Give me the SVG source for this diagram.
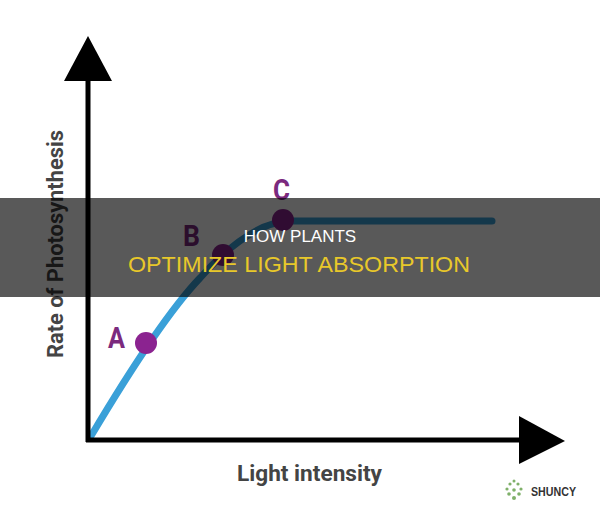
<svg xmlns="http://www.w3.org/2000/svg" width="600" height="517" viewBox="0 0 600 517">
<defs>
<style>
.axis{stroke:#000;stroke-width:5;fill:none}
.head{fill:#000}
.curve{stroke:#3aa0d8;stroke-width:7;fill:none;stroke-linecap:round}
.dot{fill:#8b2390}
.lbl{font-family:"Liberation Sans Narrow","Roboto","Liberation Sans",sans-serif;font-weight:bold;font-size:29px;fill:#7b2a7e}
.axt{font-family:"Roboto","Liberation Sans",sans-serif;font-weight:bold;font-size:22px;fill:#444}
</style>
</defs>
<rect width="600" height="517" fill="#fff"/>
<g id="connectors">
<path class="curve" d="M91,436 Q160,320 200,278 Q250,222 290,221 L492,221"/>
</g>
<g id="y-axis">
<line class="axis" x1="88" y1="442" x2="88" y2="78"/>
<polygon class="head" points="88,36 112,81 64,81"/>
</g>
<g id="x-axis">
<line class="axis" x1="86" y1="440" x2="522" y2="440"/>
<polygon class="head" points="565,441 519,416 519,464"/>
</g>
<g id="point-a">
<circle class="dot" cx="146" cy="343" r="11"/>
<text class="lbl" x="108" y="348" textLength="17" lengthAdjust="spacingAndGlyphs">A</text>
</g>
<g id="point-b">
<circle class="dot" cx="223" cy="255" r="11"/>
<text class="lbl" x="183" y="246" font-size="26" textLength="17" lengthAdjust="spacingAndGlyphs">B</text>
</g>
<g id="point-c">
<circle class="dot" cx="283" cy="220" r="11"/>
<text class="lbl" x="273" y="200" textLength="17" lengthAdjust="spacingAndGlyphs">C</text>
</g>
<g id="y-label">
<text class="axt" transform="translate(63,244) rotate(-90)" text-anchor="middle" textLength="228" lengthAdjust="spacingAndGlyphs">Rate of Photosynthesis</text>
</g>
<g id="x-label">
<text class="axt" x="237" y="481" textLength="145" lengthAdjust="spacingAndGlyphs">Light intensity</text>
</g>
<g id="banner">
<rect x="0" y="198" width="600" height="99" fill="#000" fill-opacity="0.65"/>
<text x="300" y="242" text-anchor="middle" font-family="Liberation Sans, Arial, sans-serif" font-size="17" fill="#fff">HOW PLANTS</text>
<text x="299" y="272" text-anchor="middle" font-family="Liberation Sans, Arial, sans-serif" font-size="22" fill="#e8c82a" textLength="342" lengthAdjust="spacingAndGlyphs">OPTIMIZE LIGHT ABSORPTION</text>
</g>
<g id="logo">
<g fill="#7fb069">
<circle cx="514" cy="498" r="2"/>
<circle cx="509" cy="494" r="1.8"/>
<circle cx="519" cy="494" r="1.8"/>
<circle cx="507" cy="489" r="1.6"/>
<circle cx="521" cy="489" r="1.6"/>
<circle cx="510" cy="484" r="1.6"/>
<circle cx="518" cy="484" r="1.6"/>
<circle cx="514" cy="481" r="1.5"/>
<circle cx="514" cy="490" r="1.8"/>
</g>
<text x="531" y="496" font-family="Liberation Sans, Arial, sans-serif" font-weight="bold" font-size="13" fill="#333" textLength="45" lengthAdjust="spacingAndGlyphs">SHUNCY</text>
</g>
</svg>
